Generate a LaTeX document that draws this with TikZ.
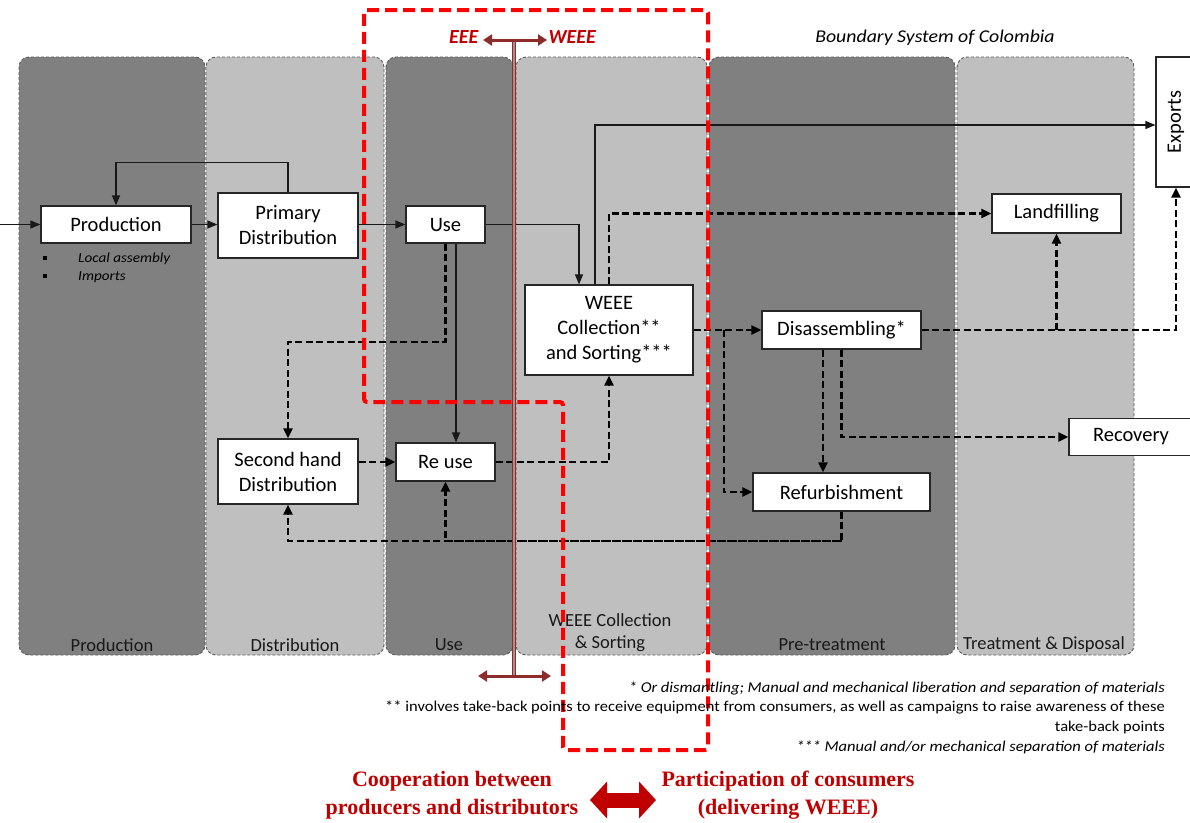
\documentclass[tikz,border=0pt]{standalone}
\usepackage{fontspec}
\setmainfont{Carlito}
\newfontfamily\wide[FakeStretch=1.1]{Carlito}
\newfontfamily\tnr{Liberation Serif}
\usetikzlibrary{arrows.meta,calc}
\definecolor{laned}{HTML}{808080}
\definecolor{lanel}{HTML}{BFBFBF}
\definecolor{laneb}{HTML}{595959}
\definecolor{bred}{HTML}{FF0000}
\definecolor{wred}{HTML}{8E2B2B}
\definecolor{wredl}{HTML}{A89090}
\definecolor{tred}{HTML}{C00000}
\tikzset{
 lane/.style={draw=laneb, dash pattern=on 3pt off 2pt, line width=0.9pt, rounded corners=10pt},
 lanelabel/.style={font=\fontsize{18.5}{22}\selectfont, align=center, text=black!90, inner sep=0pt},
 box/.style={draw=black!85, fill=white, line width=1.2pt, inner sep=0pt, align=center, font=\fontsize{20.5}{25}\selectfont},
 sarrow/.style={draw=black!90, line width=1.2pt, -{Triangle[length=10pt,width=8pt]}},
 darrow/.style={draw=black, line width=2.2pt, dash pattern=on 7pt off 3.5pt, -{Triangle[length=10pt,width=9pt]}},
 redbound/.style={draw=bred, line width=4pt, dash pattern=on 12pt off 6pt, rounded corners=3pt},
 weearrow/.style={draw=wred, line width=3pt, {Triangle[length=9pt,width=11pt]}-{Triangle[length=9pt,width=11pt]}},
 foot/.style={font=\wide\fontsize{15}{17}\selectfont, anchor=base east, inner sep=0pt},
 ifoot/.style={font=\wide\itshape\fontsize{15}{17}\selectfont, anchor=base east, inner sep=0pt},
 note/.style={anchor=west, inner sep=0pt, font=\wide\itshape\fontsize{13.8}{16}\selectfont},
 redtext/.style={font=\tnr\bfseries\fontsize{22}{28}\selectfont, text=tred, align=center},
 eeetext/.style={text=tred, font=\bfseries\itshape\fontsize{20}{22}\selectfont},
}
\begin{document}
\begin{tikzpicture}[x=1pt,y=-1pt]
\useasboundingbox (0,0) rectangle (1190,822);
% lanes
\draw[lane, fill=laned] (19,57) rectangle (205,655);
\draw[lane, fill=lanel] (206,57) rectangle (384,655);
\draw[lane, fill=laned] (386,57) rectangle (513,655);
\draw[lane, fill=lanel] (516,57) rectangle (707,655);
\draw[lane, fill=laned] (709,57) rectangle (955,655);
\draw[lane, fill=lanel] (957,57) rectangle (1134,655);
\node[lanelabel] (lp) at (112,645) {Production};
\node[lanelabel] (ld) at (295,645) {Distribution};
\node[lanelabel] (lu) at (449,645) {Use};
\node[lanelabel] (lw) at (610,633) {WEEE Collection\\\& Sorting};
\node[lanelabel] (lpt) at (832,645) {Pre-treatment};
\node[lanelabel] (ltd) at (1044,645) {Treatment \& Disposal};
\node[font=\wide\itshape\fontsize{18}{20}\selectfont] (bsc) at (935,38) {Boundary System of Colombia};

% boxes
\node[box, minimum width=150pt, minimum height=37pt] (prod) at (116,224.5) {Production};
\node[box, minimum width=140pt, minimum height=65pt] (pdist) at (288,225.5) {Primary\\Distribution};
\node[box, minimum width=79pt, minimum height=37pt] (use) at (445.5,224.5) {Use};
\node[box, minimum width=168pt, minimum height=90pt] (weee) at (609,330) {WEEE\\Collection**\\and Sorting***};
\node[box, minimum width=129pt, minimum height=39pt] (land) at (1056.5,213.5) {Landfilling};
\node[box, minimum width=159pt, minimum height=38pt] (dis) at (841.5,330) {Disassembling*};
\node[box, minimum width=124pt, minimum height=37pt] (rec) at (1131,437) {Recovery};
\node[box, minimum width=177pt, minimum height=38pt] (refurb) at (841.5,492) {Refurbishment};
\node[box, minimum width=140pt, minimum height=65pt] (shd) at (288,471.5) {Second hand\\Distribution};
\node[box, minimum width=99pt, minimum height=38pt] (reuse) at (445.5,462) {Re use};
\node[box, rotate=90, minimum width=130pt, minimum height=40pt] (exports) at (1176,122) {Exports};

% production notes
\fill (43,256) rectangle (47,260);
\fill (43,274) rectangle (47,278);
\node[note] (la) at (78,259) {Local assembly};
\node[note] (im) at (78,277) {Imports};

% connectors
\coordinate (in) at (0,224.5);
\draw[sarrow] (in) -- (prod.west);
\draw[sarrow] (prod.east) -- (prod.east -| pdist.west);
\draw[sarrow] (pdist.north) -- ++(0,-30) -| (prod.north);
\draw[sarrow] (use.west -| pdist.east) -- (use.west);
\draw[sarrow] (use.east) -| ($(weee.north)+(-30,0)$);
\draw[sarrow] ($(weee.north)+(-14,0)$) |- ($(exports.north)+(0,3)$);
\draw[darrow] (weee.north) |- (land.west);
\draw[darrow] (use.south) -- ++(0,98) -| (shd.north);
\draw[sarrow] ($(use.south)+(10.5,0)$) -- ($(reuse.north)+(10.5,0)$);
\draw[darrow] (reuse.west -| shd.east) -- (reuse.west);
\draw[darrow] (reuse.east) -| (weee.south);
\draw[darrow] (weee.east) -- (dis.west);
\draw[darrow] ($(weee.east)+(30,0)$) |- (refurb.west);
\draw[darrow] ($(dis.south)+(-18.5,0)$) -- ($(refurb.north)+(-18.5,0)$);
\draw[darrow] (dis.south) |- (rec.west);
\draw[darrow] (dis.east) -| (exports.west);
\draw[darrow] (dis.east -| land.south) -- (land.south);
\draw[darrow] (refurb.south) -- ++(0,29) -| (shd.south);
\draw[darrow] ($(refurb.south)+(0,29)$) -| (reuse.south);

% EEE / WEEE divider
\coordinate (wtop) at (514,40);
\coordinate (wbot) at (514,676);
\draw[draw=wred, double=wredl, double distance=2.5pt, line width=1pt] (wtop) -- (wbot);
\coordinate (wtl) at (483,40);
\coordinate (wtr) at (547,40);
\coordinate (wbl) at (478,676);
\coordinate (wbr) at (551,676);
\draw[weearrow] (wtl) -- (wtr);
\draw[weearrow] (wbl) -- (wbr);
\node[anchor=east, eeetext] (eee) at (482,37) {EEE};
\node[anchor=west, eeetext] (weeet) at (545,37) {WEEE};

% red boundary
\draw[redbound] (364,10) -- (708,10) -- (708,750) -- (563,750) -- (563,402) -- (364,402) -- cycle;

% footnotes
\node[ifoot] (f1) at (1165,692) {* Or dismantling; Manual and mechanical liberation and separation of materials};
\node[foot] (f2) at (1165,711) {** involves take-back points to receive equipment from consumers, as well as campaigns to raise awareness of these};
\node[foot] (f3) at (1165,731) {take-back points};
\node[ifoot] (f4) at (1165,751) {*** Manual and/or mechanical separation of materials};

% bottom texts
\node[redtext] (coop) at (452,795) {Cooperation between\\producers and distributors};
\node[redtext] (part) at (788,795) {Participation of consumers\\(delivering WEEE)};
\coordinate (fa1) at (590,800);
\coordinate (fa2) at (656,800);
\draw[draw=tred, line width=15pt, {Triangle[length=17pt,width=36pt]}-{Triangle[length=17pt,width=36pt]}] (fa1) -- (fa2);
\end{tikzpicture}
\end{document}
